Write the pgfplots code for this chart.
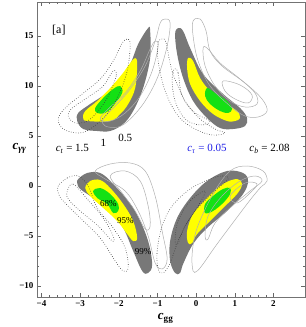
\documentclass[border=0pt]{standalone}
\usepackage{fontspec}
\setmainfont{Liberation Serif}
\usepackage{pgfplots}
\pgfplotsset{compat=1.18}
\definecolor{cgray}{RGB}{120,120,120}
\definecolor{cyel}{RGB}{255,255,0}
\definecolor{cgreen}{RGB}{20,225,20}
\definecolor{csol}{RGB}{175,175,175}
\definecolor{cdot}{RGB}{60,60,60}
\definecolor{cblue}{RGB}{30,30,230}
\newcommand{\ci}[1]{\textit{c}\textsubscript{\textit{#1}}}
\begin{document}
\begin{tikzpicture}
\begin{axis}[
  scale only axis, width=268pt, height=295pt,
  xmin=-4.116, xmax=2.817, ymin=-11.1, ymax=18.4,
  xtick={-4,-3,-2,-1,0,1,2}, xticklabels={−4,−3,−2,−1,0,1,2},
  ytick={-10,-5,0,5,10,15}, yticklabels={−10,−5,0,5,10,15},
  minor x tick num=4, minor y tick num=4,
  tick align=inside, major tick length=4pt, minor tick length=2pt,
  tick style={black!60},
  axis line style={black!55},
  ticklabel style={font=\fontsize{9}{10}\selectfont\bfseries},
  xlabel={\textbf{\textit{c}}\textsubscript{\textbf{gg}}},
  ylabel={\textbf{\textit{c}}\textsubscript{\textbf{\textit{γγ}}}},
  label style={font=\fontsize{13}{14}\selectfont},
  ylabel style={rotate=-90, at={(rel axis cs:-0.065,0.505)}, anchor=center},
  xlabel style={at={(rel axis cs:0.48,-0.072)}, anchor=center},
  clip=false,
]
% ---------- filled regions ----------
% upper-left
\addplot[fill=cgray, draw=none, smooth cycle, tension=0.6] coordinates {
(-1.240,15.8) (-1.189,15.5) (-1.189,12.8) (-1.370,9.8) (-1.628,7.5) (-1.886,6.2) (-2.222,5.5) (-2.558,5.5) (-2.920,5.7) (-3.075,6.5) (-3.049,7.3) (-2.739,8.2) (-2.351,9.2) (-2.016,10.5) (-1.705,12.2) (-1.499,14.2)};
\addplot[fill=cyel, draw=none, smooth cycle, tension=0.6] coordinates {
(-1.576,12.8) (-1.525,12.2) (-1.576,9.8) (-1.757,8.2) (-1.964,7.2) (-2.222,6.5) (-2.817,6.5) (-2.920,6.8) (-2.868,7.5) (-2.558,8.5) (-2.222,9.8) (-1.912,11.2) (-1.705,12.3)};
\addplot[fill=cgreen, draw=none, smooth cycle, tension=0.6] coordinates {
(-1.964,10.0) (-1.912,9.3) (-2.145,8.0) (-2.351,7.3) (-2.558,7.3) (-2.610,7.8) (-2.403,8.8) (-2.145,9.7)};
% upper-right
\addplot[fill=cgray, draw=none, smooth cycle, tension=0.6] coordinates {
(-0.465,15.8) (-0.336,15.5) (-0.155,13.8) (0.181,11.2) (0.698,9.2) (1.137,7.8) (1.318,6.8) (1.266,6.0) (0.956,5.7) (0.620,5.8) (0.284,6.8) (-0.078,8.5) (-0.336,10.8) (-0.491,13.2) (-0.543,15.2)};
\addplot[fill=cyel, draw=none, smooth cycle, tension=0.6] coordinates {
(-0.207,12.8) (-0.078,12.5) (0.103,10.8) (0.362,9.5) (0.749,8.3) (1.059,7.5) (1.137,6.8) (1.008,6.5) (0.801,6.5) (0.439,7.2) (0.103,8.5) (-0.155,10.2) (-0.233,11.8)};
\addplot[fill=cgreen, draw=none, smooth cycle, tension=0.6] coordinates {
(0.284,9.8) (0.491,9.3) (0.801,8.5) (0.930,7.7) (0.827,7.3) (0.620,7.5) (0.362,8.2) (0.233,9.0)};
% lower-left
\addplot[fill=cgray, draw=none, smooth cycle, tension=0.6] coordinates {
(-3.075,0.3) (-3.049,0.7) (-2.817,1.3) (-2.481,1.3) (-2.145,0.2) (-1.628,-2.2) (-1.266,-5.2) (-1.137,-7.8) (-1.240,-8.7) (-1.395,-8.5) (-1.628,-6.5) (-1.886,-4.2) (-2.222,-2.5) (-2.662,-1.2) (-2.998,-0.3)};
\addplot[fill=cyel, draw=none, smooth cycle, tension=0.6] coordinates {
(-2.868,-0.2) (-2.739,0.5) (-2.481,0.6) (-2.222,-0.2) (-1.886,-1.8) (-1.628,-3.5) (-1.525,-5.2) (-1.628,-5.5) (-1.783,-4.8) (-2.041,-3.5) (-2.403,-2.2) (-2.739,-1.0)};
\addplot[fill=cgreen, draw=none, smooth cycle, tension=0.6] coordinates {
(-2.662,-0.5) (-2.481,-0.2) (-2.222,-0.8) (-2.016,-1.8) (-2.016,-2.5) (-2.145,-2.7) (-2.300,-1.8) (-2.558,-1.2)};
% lower-right
\addplot[fill=cgray, draw=none, smooth cycle, tension=0.6] coordinates {
(-0.543,-8.7) (-0.672,-7.5) (-0.672,-5.5) (-0.491,-3.2) (-0.155,-1.2) (0.284,0.5) (0.801,1.5) (1.215,1.3) (1.344,0.5) (1.215,-0.8) (0.801,-2.5) (0.284,-4.2) (-0.078,-5.8) (-0.336,-7.8) (-0.413,-8.7)};
\addplot[fill=cyel, draw=none, smooth cycle, tension=0.6] coordinates {
(-0.207,-5.7) (-0.233,-4.5) (-0.078,-2.8) (0.284,-1.2) (0.698,0.2) (1.059,0.7) (1.189,0.2) (1.059,-0.8) (0.698,-2.2) (0.362,-3.5) (0.026,-4.8) (-0.103,-5.7)};
\addplot[fill=cgreen, draw=none, smooth cycle, tension=0.6] coordinates {
(0.233,-2.7) (0.233,-1.8) (0.439,-1.0) (0.698,-0.3) (0.879,-0.2) (0.879,-0.8) (0.698,-1.7) (0.439,-2.5)};
% ---------- solid contours (c_t = 1, 0.5) ----------
\pgfplotsset{sol/.style={draw=csol, line width=0.5pt, smooth cycle, tension=0.6}}
\addplot[sol] coordinates {
(-0.801,16.7) (-0.672,16.3) (-0.749,14.0) (-0.982,11.0) (-1.318,8.5) (-1.705,6.7) (-2.016,5.9) (-2.351,6.0) (-2.403,6.7) (-2.093,8.0) (-1.705,9.7) (-1.318,12.0) (-1.059,14.5) (-0.930,16.3)};
\addplot[sol] coordinates {
(-1.059,14.5) (-0.982,14.0) (-1.137,11.5) (-1.447,9.0) (-1.835,7.3) (-2.222,6.5) (-2.481,6.7) (-2.274,7.7) (-1.835,9.3) (-1.447,11.5) (-1.189,13.7)};
\addplot[sol] coordinates {
(-0.078,16.5) (0.103,16.7) (0.258,15.5) (0.362,13.5) (0.672,12.0) (1.266,10.3) (1.705,8.7) (1.835,7.5) (1.602,6.9) (1.266,7.0) (0.879,8.0) (0.362,10.0) (0.052,12.5) (-0.078,15.0)};
\addplot[sol] coordinates {
(0.181,13.8) (0.310,13.7) (0.620,12.3) (1.137,10.7) (1.525,9.3) (1.576,8.2) (1.266,7.9) (0.879,8.5) (0.491,10.0) (0.233,12.0)};
\addplot[sol] coordinates {
(0.698,10.5) (1.137,10.1) (1.447,9.1) (1.344,8.3) (1.008,8.7) (0.749,9.5)};
\addplot[sol] coordinates {
(-2.610,1.5) (-2.222,2.2) (-1.705,2.3) (-1.318,1.5) (-1.059,-1.0) (-0.879,-4.5) (-0.749,-7.3) (-0.879,-8.3) (-1.059,-7.7) (-1.240,-5.0) (-1.499,-2.5) (-1.835,-0.5) (-2.351,0.7)};
\addplot[sol] coordinates {
(-2.222,1.0) (-1.835,1.5) (-1.447,0.5) (-1.240,-2.0) (-1.189,-4.0) (-1.318,-4.3) (-1.576,-2.5) (-1.912,-0.7)};
\addplot[sol] coordinates {
(-0.078,-8.5) (-0.103,-6.8) (0.026,-4.2) (0.439,-0.8) (0.879,1.5) (1.318,2.0) (1.731,1.5) (1.835,0.5) (1.654,-0.2) (1.318,-1.8) (0.543,-5.8) (0.181,-7.8) (0.026,-8.5)};
\addplot[sol] coordinates {
(0.233,-5.0) (0.310,-3.0) (0.672,-1.0) (1.137,0.5) (1.525,1.0) (1.705,0.5) (1.395,-0.5) (0.930,-2.0) (0.491,-3.7) (0.310,-5.3)};
\addplot[sol] coordinates {
(0.879,-1.0) (1.266,0.3) (1.576,0.2) (1.395,-0.7) (1.059,-1.7)};
% ---------- dotted contours (c_t = 1.5) ----------
\pgfplotsset{dott/.style={draw=cdot, line width=0.6pt, dash pattern=on 0.6pt off 1.8pt, smooth cycle, tension=0.6}}
\addplot[dott] coordinates {
(-1.757,14.7) (-1.705,14.0) (-1.783,11.5) (-2.016,9.0) (-2.351,7.0) (-2.739,5.7) (-3.049,5.3) (-3.437,5.7) (-3.566,6.7) (-3.385,7.8) (-2.946,9.2) (-2.481,10.7) (-2.145,12.5) (-1.912,14.3)};
\addplot[dott] coordinates {
(-2.145,11.5) (-2.067,11.0) (-2.274,9.0) (-2.532,7.5) (-2.817,6.5) (-3.127,6.3) (-3.308,7.0) (-3.204,7.8) (-2.791,8.9) (-2.403,10.0)};
\addplot[dott] coordinates {
(-0.879,14.7) (-0.775,14.3) (-0.620,11.5) (-0.284,8.5) (0.103,6.7) (0.491,5.7) (0.749,5.3) (0.413,5.1) (-0.026,5.7) (-0.465,7.0) (-0.801,9.5) (-0.982,12.5) (-0.982,14.3)};
\addplot[dott] coordinates {
(-0.568,11.7) (-0.465,11.3) (-0.362,9.0) (-0.026,7.3) (0.362,6.5) (0.103,6.1) (-0.284,6.7) (-0.543,8.5) (-0.620,10.5)};
\addplot[dott] coordinates {
(-3.566,0.0) (-3.333,0.8) (-3.049,1.0) (-2.791,0.0) (-2.558,-2.2) (-2.145,-4.2) (-1.835,-6.2) (-1.757,-8.2) (-1.886,-8.5) (-2.093,-7.5) (-2.481,-5.2) (-2.998,-3.2) (-3.437,-1.5) (-3.566,-0.7)};
\addplot[dott] coordinates {
(-3.333,-0.5) (-3.178,0.2) (-2.817,-1.3) (-2.403,-3.2) (-2.145,-5.0) (-2.171,-5.5) (-2.532,-4.0) (-2.998,-2.5) (-3.308,-1.3)};
\addplot[dott] coordinates {
(-0.982,-8.3) (-1.008,-6.5) (-0.879,-4.0) (-0.620,-2.0) (-0.155,-0.3) (0.362,0.7) (0.672,1.0) (0.827,0.7) (0.491,-0.5) (-0.026,-2.5) (-0.413,-5.0) (-0.672,-7.7) (-0.853,-8.7)};
\addplot[dott] coordinates {
(-0.543,-5.5) (-0.465,-3.5) (-0.155,-1.5) (0.233,-0.5) (0.052,-2.0) (-0.284,-4.0) (-0.465,-5.7)};
% ---------- labels ----------
\node[font=\fontsize{12}{13}\selectfont] at (axis cs:-3.55,15.6) {[a]};
\node[font=\fontsize{11}{12}\selectfont] at (axis cs:-3.2,3.7) {\ci{t} = 1.5};
\node[font=\fontsize{11}{12}\selectfont] at (axis cs:-2.4,4.3) {1};
\node[font=\fontsize{11}{12}\selectfont] at (axis cs:-1.83,4.8) {0.5};
\node[font=\fontsize{11}{12}\selectfont, text=cblue] at (axis cs:0.28,3.7) {\ci{τ} = 0.05};
\node[font=\fontsize{11}{12}\selectfont] at (axis cs:1.9,3.7) {\ci{b} = 2.08};
\node[font=\fontsize{9}{10}\selectfont] at (axis cs:-2.27,-1.75) {68\%};
\node[font=\fontsize{9}{10}\selectfont] at (axis cs:-1.83,-3.45) {95\%};
\node[font=\fontsize{9}{10}\selectfont] at (axis cs:-1.37,-6.6) {99\%};
\end{axis}
\pgfresetboundingbox
\path ([xshift=-37pt,yshift=-30pt]current axis.south west) rectangle ([xshift=1pt,yshift=2pt]current axis.north east);
\end{tikzpicture}
\end{document}
